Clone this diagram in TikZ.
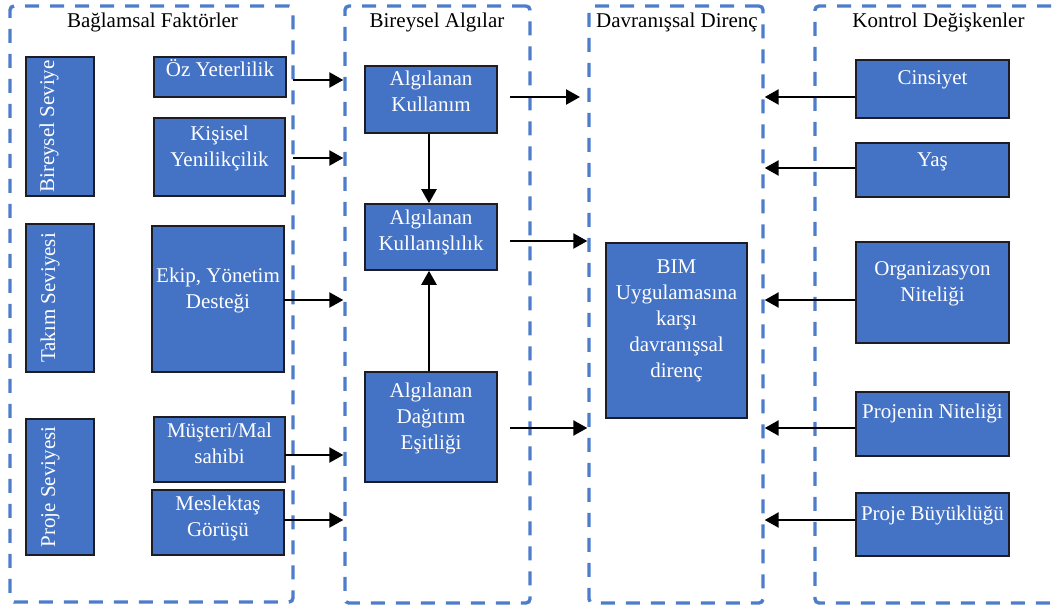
\documentclass[tikz,border=0pt]{standalone}
\usepackage{fontspec}
\setmainfont{Liberation Serif}
\usetikzlibrary{arrows.meta}
\definecolor{boxblue}{HTML}{4472C4}
\definecolor{boxedge}{HTML}{1C1C24}
\definecolor{frameblue}{HTML}{4D7CCB}
% \blok[style]{name}{x1}{y1}{x2}{y2}: rectangle node spanning two corners
\newcommand\blok[6][box]{\node[#1, minimum width={(#5)-(#3)}, minimum height={(#6)-(#4)}] (#2) at ({((#3)+(#5))/2},{((#4)+(#6))/2}) {};}
\begin{document}
\begin{tikzpicture}[x=1pt,y=-1pt,
  frame/.style={draw=frameblue, line width=3.4pt, dash pattern=on 14pt off 11pt, rounded corners=4pt, inner sep=0pt},
  box/.style={draw=boxedge, fill=boxblue, line width=1.6pt, inner sep=0pt},
  lbl/.style={text=white, font=\fontsize{21}{26}\selectfont, align=center, inner sep=0pt, anchor=base},
  head/.style={font=\fontsize{21}{26}\selectfont, inner sep=0pt, anchor=base},
  arr/.style={line width=2.4pt, -{Triangle[length=14pt,width=15pt]}}]
\useasboundingbox (0,0) rectangle (1059,607);

% dashed group frames
\blok[frame]{c1}{10}{6}{293}{602}
\blok[frame]{c2}{345}{6}{530}{603}
\blok[frame]{c3}{589}{6}{763}{603}
\blok[frame]{c4}{815}{6}{1080}{603}

% group headings
\node[head] (h1) at (152.5,28) {Bağlamsal Faktörler};
\node[head] (h2) at (437,28) {Bireysel Algılar};
\node[head] (h3) at (677,28) {Davranışsal Direnç};
\node[head] (h4) at (938.5,28) {Kontrol Değişkenler};

% level bars (labels run bottom to top; base anchor = last line)
\blok{bsev}{26}{57}{94}{196}
\blok{tsev}{26}{224}{94}{372}
\blok{psev}{26}{419}{94}{555}
\node[lbl, rotate=90] (bsevt) at (54,126.5) {Bireysel Seviye};
\node[lbl, rotate=90] (tsevt) at (55,298) {Takım Seviyesi};
\node[lbl, rotate=90] (psevt) at (55,487) {Proje Seviyesi};

% contextual factors
\blok{oz}{154}{57}{286}{97}
\blok{kis}{154}{118}{285}{196}
\blok{ekip}{152}{226}{284}{372}
\blok{mus}{154}{417}{285}{482}
\blok{mes}{152}{490}{284}{555}
\node[lbl] (ozt) at (220,77) {Öz Yeterlilik};
\node[lbl] (kist) at (219.5,166) {Kişisel\\Yenilikçilik};
\node[lbl] (ekipt) at (218,308) {Ekip, Yönetim\\Desteği};
\node[lbl] (must) at (219.5,463) {Müşteri/Mal\\sahibi};
\node[lbl] (mest) at (218,536) {Meslektaş\\Görüşü};

% individual perceptions
\blok{ak}{365}{66}{497}{133}
\blok{aks}{365}{204}{497}{270}
\blok{ade}{365}{372}{497}{482}
\node[lbl] (akt) at (431,112) {Algılanan\\Kullanım};
\node[lbl] (akst) at (431,250) {Algılanan\\Kullanışlılık};
\node[lbl] (adet) at (431,449) {Algılanan\\Dağıtım\\Eşitliği};

% outcome
\blok{bim}{606}{243}{747}{418}
\node[lbl] (bimt) at (676.5,377) {BIM\\Uygulamasına\\karşı\\davranışsal\\direnç};

% control variables
\blok{cins}{856}{60}{1009}{118}
\blok{yas}{856}{143}{1009}{197}
\blok{org}{856}{242}{1009}{343}
\blok{pni}{856}{392}{1009}{456}
\blok{pbu}{856}{493}{1009}{556}
\node[lbl] (cinst) at (932.5,85) {Cinsiyet};
\node[lbl] (yast) at (932.5,166) {Yaş};
\node[lbl] (orgt) at (932.5,301) {Organizasyon\\Niteliği};
\node[lbl] (pnit) at (932.5,418) {Projenin Niteliği};
\node[lbl] (pbut) at (932.5,520) {Proje Büyüklüğü};

% arrow start points
\coordinate (s1) at (293,80);
\coordinate (s2) at (293,158);
\coordinate (s3) at (284,300);
\coordinate (s4) at (285,455);
\coordinate (s5) at (284,520);
\coordinate (t1) at (510,97);
\coordinate (t2) at (510,241);
\coordinate (t3) at (510,428);
\coordinate (e1) at (580,97);

% contextual factors -> perceptions
\draw[arr] (s1) -- (s1 -| c2.west);
\draw[arr] (s2) -- (s2 -| c2.west);
\draw[arr] (s3) -- (s3 -| c2.west);
\draw[arr] (s4) -- (s4 -| c2.west);
\draw[arr] (s5) -- (s5 -| c2.west);

% links among perceptions
\draw[arr] (ak.south -| 429,0) -- (aks.north -| 429,0);
\draw[arr] (ade.north -| 429,0) -- (aks.south -| 429,0);

% perceptions -> resistance
\draw[arr] (t1) -- (e1);
\draw[arr] (t2) -- (t2 -| c3.west);
\draw[arr] (t3) -- (t3 -| c3.west);

% control variables -> resistance
\draw[arr] (cins.west |- 0,97) -- (c3.east |- 0,97);
\draw[arr] (yas.west |- 0,168) -- (c3.east |- 0,168);
\draw[arr] (org.west |- 0,300) -- (c3.east |- 0,300);
\draw[arr] (pni.west |- 0,428) -- (c3.east |- 0,428);
\draw[arr] (pbu.west |- 0,520) -- (c3.east |- 0,520);
\end{tikzpicture}
\end{document}
